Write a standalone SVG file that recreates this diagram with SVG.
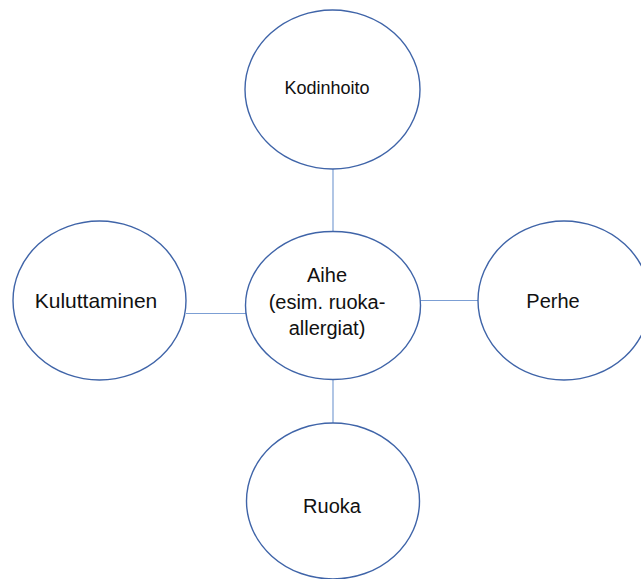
<svg xmlns="http://www.w3.org/2000/svg" width="641" height="579" viewBox="0 0 641 579">
<style>
.node{fill:#ffffff;stroke:#3f64a8;stroke-width:1.4}
.conn{stroke:#7c9fd4;stroke-width:1.2;fill:none}
.lbl{font-family:"Liberation Sans",Arial,sans-serif;font-size:20px;fill:#111111;text-anchor:middle}
</style>
<rect width="641" height="579" fill="#ffffff"/>
<g id="connectors">
<line class="conn" x1="333" y1="169" x2="333" y2="232"/>
<line class="conn" x1="333" y1="379" x2="333" y2="423"/>
<line class="conn" x1="186" y1="313.5" x2="246" y2="313.5"/>
<line class="conn" x1="420" y1="300.5" x2="478" y2="300.5"/>
</g>
<g id="kodinhoito">
<ellipse class="node" cx="332.5" cy="89.5" rx="87.5" ry="79.5"/>
<text class="lbl" x="327" y="94" style="font-size:18px">Kodinhoito</text>
</g>
<g id="aihe">
<ellipse class="node" cx="333" cy="305.5" rx="87.5" ry="74"/>
<text class="lbl" x="327" y="282">Aihe</text>
<text class="lbl" x="327" y="309">(esim. ruoka-</text>
<text class="lbl" x="327" y="335">allergiat)</text>
</g>
<g id="kuluttaminen">
<ellipse class="node" cx="99.5" cy="300.5" rx="86.5" ry="79.5"/>
<text class="lbl" x="96" y="308" style="font-size:21px">Kuluttaminen</text>
</g>
<g id="perhe">
<ellipse class="node" cx="564" cy="300.5" rx="86" ry="79.5"/>
<text class="lbl" x="553" y="308">Perhe</text>
</g>
<g id="ruoka">
<ellipse class="node" cx="333" cy="501" rx="86.5" ry="78"/>
<text class="lbl" x="332" y="513">Ruoka</text>
</g>
</svg>
